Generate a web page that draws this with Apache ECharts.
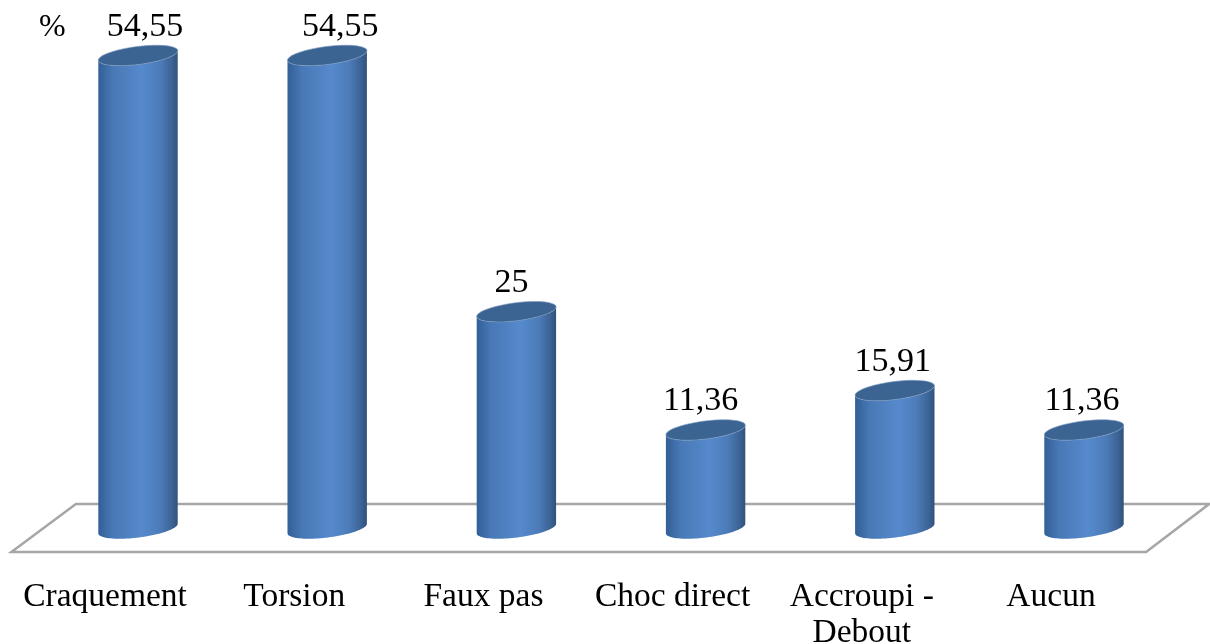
<!DOCTYPE html>
<html><head><meta charset="utf-8">
<style>html,body{margin:0;padding:0;background:#fff}#c{width:1210px;height:644px}</style>
<script src="https://cdn.jsdelivr.net/npm/echarts@6/dist/echarts.min.js"></script>
</head><body><div id="c"></div>
<script>
const categories = ['Craquement', 'Torsion', 'Faux pas', 'Choc direct', 'Accroupi -\nDebout', 'Aucun'];
const values = [54.55, 54.55, 25, 11.36, 15.91, 11.36];

const FONT = '"Liberation Serif", serif';
const labelNudge = [7, 13, -5, -5, -2, -2];
const TILT = -7.2 * Math.PI / 180;
const RY = 9;

function arc(cx, cy, rx, from, to) {
  const pts = [];
  const n = 48;
  for (let k = 0; k <= n; k++) {
    const t = from + (to - from) * k / n;
    pts.push([
      cx + rx * Math.cos(t) * Math.cos(TILT) - RY * Math.sin(t) * Math.sin(TILT),
      cy + rx * Math.cos(t) * Math.sin(TILT) + RY * Math.sin(t) * Math.cos(TILT)
    ]);
  }
  return pts;
}

const chart = echarts.init(document.getElementById('c'), null, { renderer: 'canvas' });
chart.setOption({
  animation: false,
  backgroundColor: '#ffffff',
  title: { text: '%', left: 34, top: 7, textStyle: { fontFamily: FONT, fontSize: 32, fontWeight: 'normal', color: '#000' } },
  grid: { left: 43.4, right: 31.4, top: 8.2, bottom: 115.5, containLabel: false, outerBoundsMode: 'none' },
  xAxis: {
    type: 'category', data: categories,
    axisLine: { show: false }, axisTick: { show: false }, splitLine: { show: false },
    axisLabel: { interval: 0, margin: 50, fontFamily: FONT, fontSize: 33.5, color: '#000', lineHeight: 36.5, padding: [0, 66, 0, 0] }
  },
  yAxis: { type: 'value', min: 0, max: 60, show: false },
  series: [
    {
      type: 'custom', silent: true, z: 1, data: [0],
      renderItem(params, api) {
        const g = params.coordSys;
        const b = g.y + g.height, l = g.x, r = g.x + g.width;
        return {
          type: 'polygon',
          shape: { points: [[l - 32, b + 23.5], [l + 32.5, b - 24.5], [r + 30.5, b - 24.5], [r - 32.5, b + 23.5]] },
          style: { fill: '#ffffff', stroke: '#a6a6a6', lineWidth: 2.5 }
        };
      }
    },
    {
      type: 'custom', silent: true, z: 2,
      encode: { x: 0, y: 1 },
      data: values.map((v, i) => [i, v]),
      renderItem(params, api) {
        const i = api.value(0), v = api.value(1);
        const top = api.coord([i, v]);
        const base = api.coord([i, 0]);
        const rx = api.size([1, 0])[0] * 0.423 / 2;
        const cx = top[0];
        const lower = arc(cx, base[1], rx, Math.PI, 0);
        const upper = arc(cx, top[1], rx, 0, Math.PI);
        return {
          type: 'group',
          children: [
            {
              type: 'polygon',
              shape: { points: lower.concat(upper) },
              style: {
                fill: {
                  type: 'linear', x: 0, y: 0, x2: 1, y2: 0,
                  colorStops: [
                    { offset: 0, color: '#315f96' },
                    { offset: 0.18, color: '#4878b5' },
                    { offset: 0.55, color: '#568acd' },
                    { offset: 0.78, color: '#4c7bb8' },
                    { offset: 0.92, color: '#3c6597' },
                    { offset: 1, color: '#31517b' }
                  ]
                }
              }
            },
            {
              type: 'polygon',
              shape: { points: arc(cx, top[1], rx, 0, 2 * Math.PI) },
              style: { fill: '#3c6492', stroke: '#7f9dc4', lineWidth: 0.6 }
            },
            {
              type: 'text',
              style: {
                text: String(v).replace('.', ','),
                x: cx + labelNudge[i], y: top[1] - 28.5,
                align: 'center', verticalAlign: 'middle',
                font: '34px ' + FONT, fill: '#000'
              }
            }
          ]
        };
      }
    }
  ]
});
</script></body></html>
